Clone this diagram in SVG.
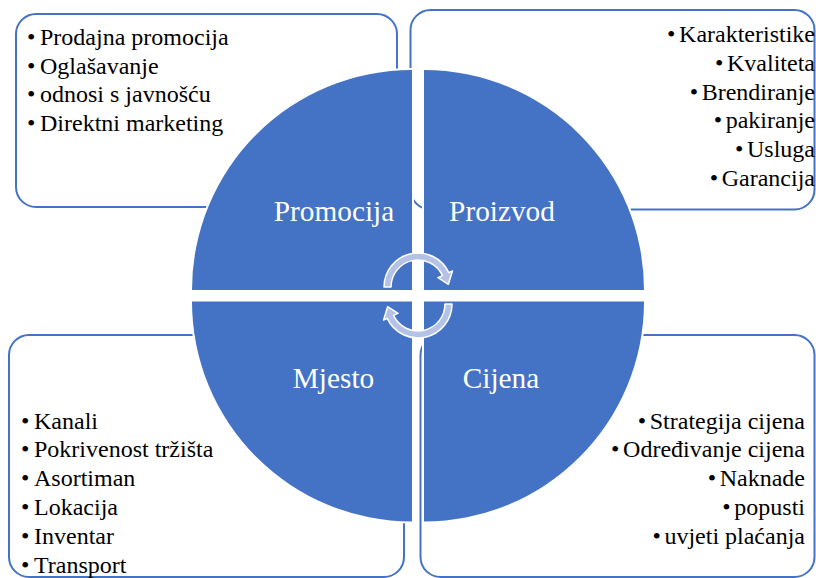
<svg xmlns="http://www.w3.org/2000/svg" width="816" height="578" viewBox="0 0 816 578">
<style>
.box{fill:#fff;stroke:#4472C4;stroke-width:2}
.quad{fill:#4472C4;stroke:#fff;stroke-width:4;paint-order:stroke}
.lbl{font-family:"Liberation Serif","Times New Roman",serif;font-size:29.3px;fill:#fff;text-anchor:middle}
.item{font-family:"Liberation Serif","Times New Roman",serif;font-size:24px;fill:#000}
.r{text-anchor:end}
.arr{fill:#B4C2E6;stroke:#fff;stroke-width:1.5;stroke-linejoin:round}
</style>
<rect width="816" height="578" fill="#fff"/>
<g id="box-promocija">
<rect class="box" x="16" y="14" width="381" height="193" rx="20"/>
<text class="item" x="27" y="45">•<tspan dx="4.6">Prodajna promocija</tspan></text>
<text class="item" x="27" y="73.7">•<tspan dx="4.6">Oglašavanje</tspan></text>
<text class="item" x="27" y="102.4">•<tspan dx="4.6">odnosi s javnošću</tspan></text>
<text class="item" x="27" y="131">•<tspan dx="4.6">Direktni marketing</tspan></text>
</g>
<g id="box-proizvod">
<rect class="box" x="410.5" y="10" width="404" height="199.5" rx="20"/>
<text class="item r" x="815" y="42">•<tspan dx="3.6">Karakteristike</tspan></text>
<text class="item r" x="815" y="70.8">•<tspan dx="3.6">Kvaliteta</tspan></text>
<text class="item r" x="815" y="99.6">•<tspan dx="3.6">Brendiranje</tspan></text>
<text class="item r" x="815" y="128.4">•<tspan dx="3.6">pakiranje</tspan></text>
<text class="item r" x="815" y="157.2">•<tspan dx="3.6">Usluga</tspan></text>
<text class="item r" x="815" y="186">•<tspan dx="3.6">Garancija</tspan></text>
</g>
<g id="box-mjesto">
<rect class="box" x="9" y="335" width="395" height="242" rx="20"/>
<text class="item" x="21" y="428.5">•<tspan dx="4.6">Kanali</tspan></text>
<text class="item" x="21" y="457.3">•<tspan dx="4.6">Pokrivenost tržišta</tspan></text>
<text class="item" x="21" y="486.1">•<tspan dx="4.6">Asortiman</tspan></text>
<text class="item" x="21" y="514.9">•<tspan dx="4.6">Lokacija</tspan></text>
<text class="item" x="21" y="543.7">•<tspan dx="4.6">Inventar</tspan></text>
<text class="item" x="21" y="572.5">•<tspan dx="4.6">Transport</tspan></text>
</g>
<g id="box-cijena">
<rect class="box" x="420.5" y="335" width="394" height="242" rx="20"/>
<text class="item r" x="805" y="428.5">•<tspan dx="3.6">Strategija cijena</tspan></text>
<text class="item r" x="805" y="457.3">•<tspan dx="3.6">Određivanje cijena</tspan></text>
<text class="item r" x="805" y="486.1">•<tspan dx="3.6">Naknade</tspan></text>
<text class="item r" x="805" y="514.9">•<tspan dx="3.6">popusti</tspan></text>
<text class="item r" x="805" y="543.7">•<tspan dx="3.6">uvjeti plaćanja</tspan></text>
</g>
<g id="promocija">
<path class="quad" d="M412,290 L192,290 A220,220 0 0 1 412,70 Z"/>
<text class="lbl" x="334" y="221">Promocija</text>
</g>
<g id="proizvod">
<path class="quad" d="M424,290 L424,70 A220,220 0 0 1 644,290 Z"/>
<text class="lbl" x="502" y="221">Proizvod</text>
</g>
<g id="mjesto">
<path class="quad" d="M412,301.5 L412,521.5 A220,220 0 0 1 192,301.5 Z"/>
<text class="lbl" x="333.5" y="387.7">Mjesto</text>
</g>
<g id="cijena">
<path class="quad" d="M424,301.5 L644,301.5 A220,220 0 0 1 424,521.5 Z"/>
<text class="lbl" x="501" y="387.7">Cijena</text>
</g>
<g id="connectors">
<path id="arrow-top" class="arr" d="M384,287 A34,34 0 0 1 448.81,272.63 L452.44,270.94 L448.38,284.34 L437.94,277.7 L442.47,275.59 A27,27 0 0 0 391,287 Z"/>
<path id="arrow-bottom" class="arr" transform="rotate(180 418 295.5)" d="M384,287 A34,34 0 0 1 448.81,272.63 L452.44,270.94 L448.38,284.34 L437.94,277.7 L442.47,275.59 A27,27 0 0 0 391,287 Z"/>
</g>
</svg>
